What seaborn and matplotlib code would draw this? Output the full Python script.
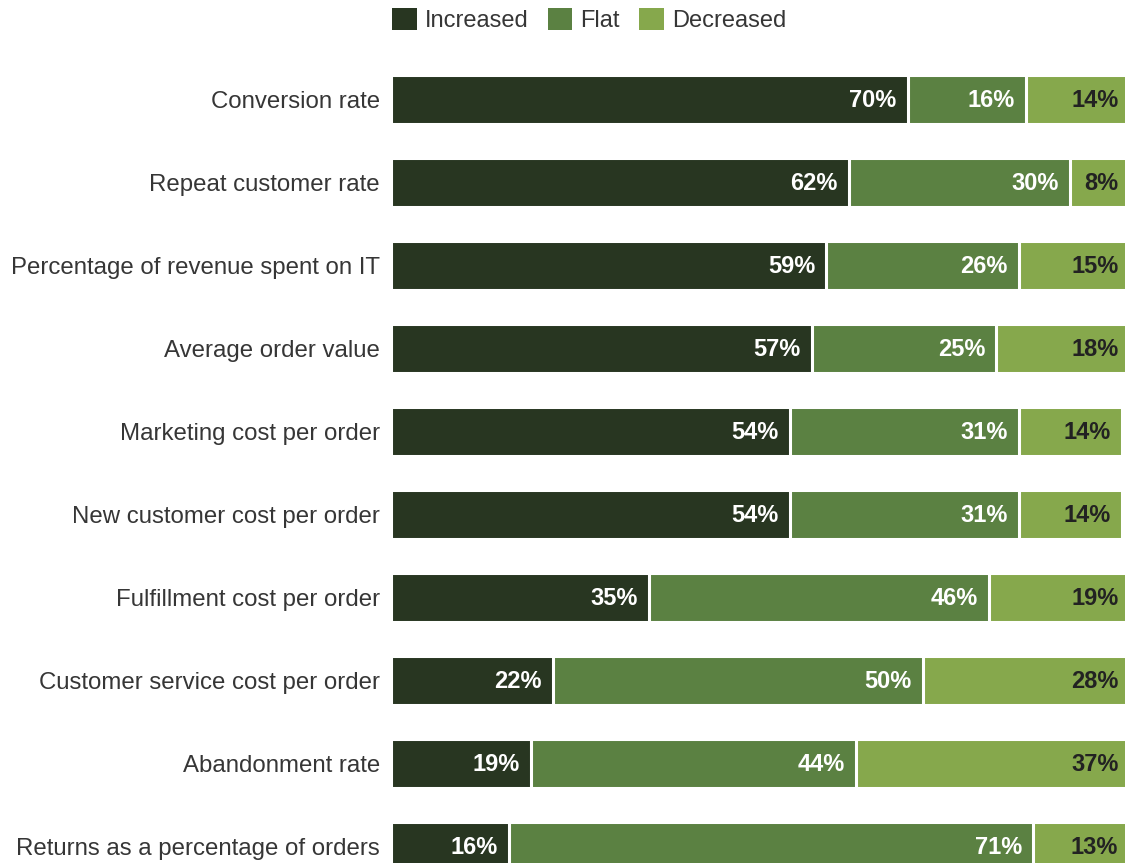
import matplotlib
matplotlib.use("Agg")
import matplotlib.pyplot as plt
from matplotlib.patches import Patch
import seaborn as sns
import pandas as pd

categories = [
    "Conversion rate",
    "Repeat customer rate",
    "Percentage of revenue spent on IT",
    "Average order value",
    "Marketing cost per order",
    "New customer cost per order",
    "Fulfillment cost per order",
    "Customer service cost per order",
    "Abandonment rate",
    "Returns as a percentage of orders",
]
increased = [70, 62, 59, 57, 54, 54, 35, 22, 19, 16]
flat = [16, 30, 26, 25, 31, 31, 46, 50, 44, 71]
decreased = [14, 8, 15, 18, 14, 14, 19, 28, 37, 13]

series_names = ["Increased", "Flat", "Decreased"]
colors = ["#283621", "#5b8142", "#86a84c"]
label_colors = ["white", "white", "#222222"]

sns.set_theme(style="white")
plt.rcParams["font.family"] = ["Liberation Sans", "DejaVu Sans"]

df = pd.DataFrame({
    "category": categories,
    "Increased": increased,
    "Flat": flat,
    "Decreased": decreased,
})
df["end_inc"] = df["Increased"]
df["end_flat"] = df["Increased"] + df["Flat"]
df["end_dec"] = df["end_flat"] + df["Decreased"]

fig = plt.figure(figsize=(11.25, 8.63), dpi=100)
ax = fig.add_axes([390.5 / 1125, 0.0, 734.5 / 1125, (863 - 50) / 863])

# stacked bars: draw the running totals from longest to shortest
for col, color in zip(["end_dec", "end_flat", "end_inc"], colors[::-1]):
    sns.barplot(data=df, x=col, y="category", orient="h", color=color,
                width=0.59, edgecolor="white", linewidth=2.2,
                saturation=1, ax=ax)

# value labels at the right end of each segment
for i, row in df.iterrows():
    for name, end_col, tc in zip(series_names, ["end_inc", "end_flat", "end_dec"], label_colors):
        ax.annotate(f"{row[name]}%", xy=(row[end_col], i), xytext=(-8, -1),
                    textcoords="offset points", ha="right", va="center",
                    fontsize=17, fontweight="bold", color=tc,
                    annotation_clip=False)

ax.set_xlim(0, 99.4)
ax.set_ylim(9.199, -0.596)
ax.set_xlabel("")
ax.set_ylabel("")
ax.set_xticks([])
ax.tick_params(axis="y", length=0, pad=7.5, labelsize=17.3, labelcolor="#363636")
for s in ax.spines.values():
    s.set_visible(False)

handles = [Patch(facecolor=c, edgecolor="none") for c in colors]
fig.legend(handles, series_names, loc="center left",
           bbox_to_anchor=(380 / 1125, 1 - 20 / 863), ncol=3, frameon=False,
           fontsize=17, handlelength=1.05, handleheight=1.05,
           handletextpad=0.35, columnspacing=0.8, borderpad=0,
           labelcolor="#363636")

fig.savefig("out.png", dpi=100)
